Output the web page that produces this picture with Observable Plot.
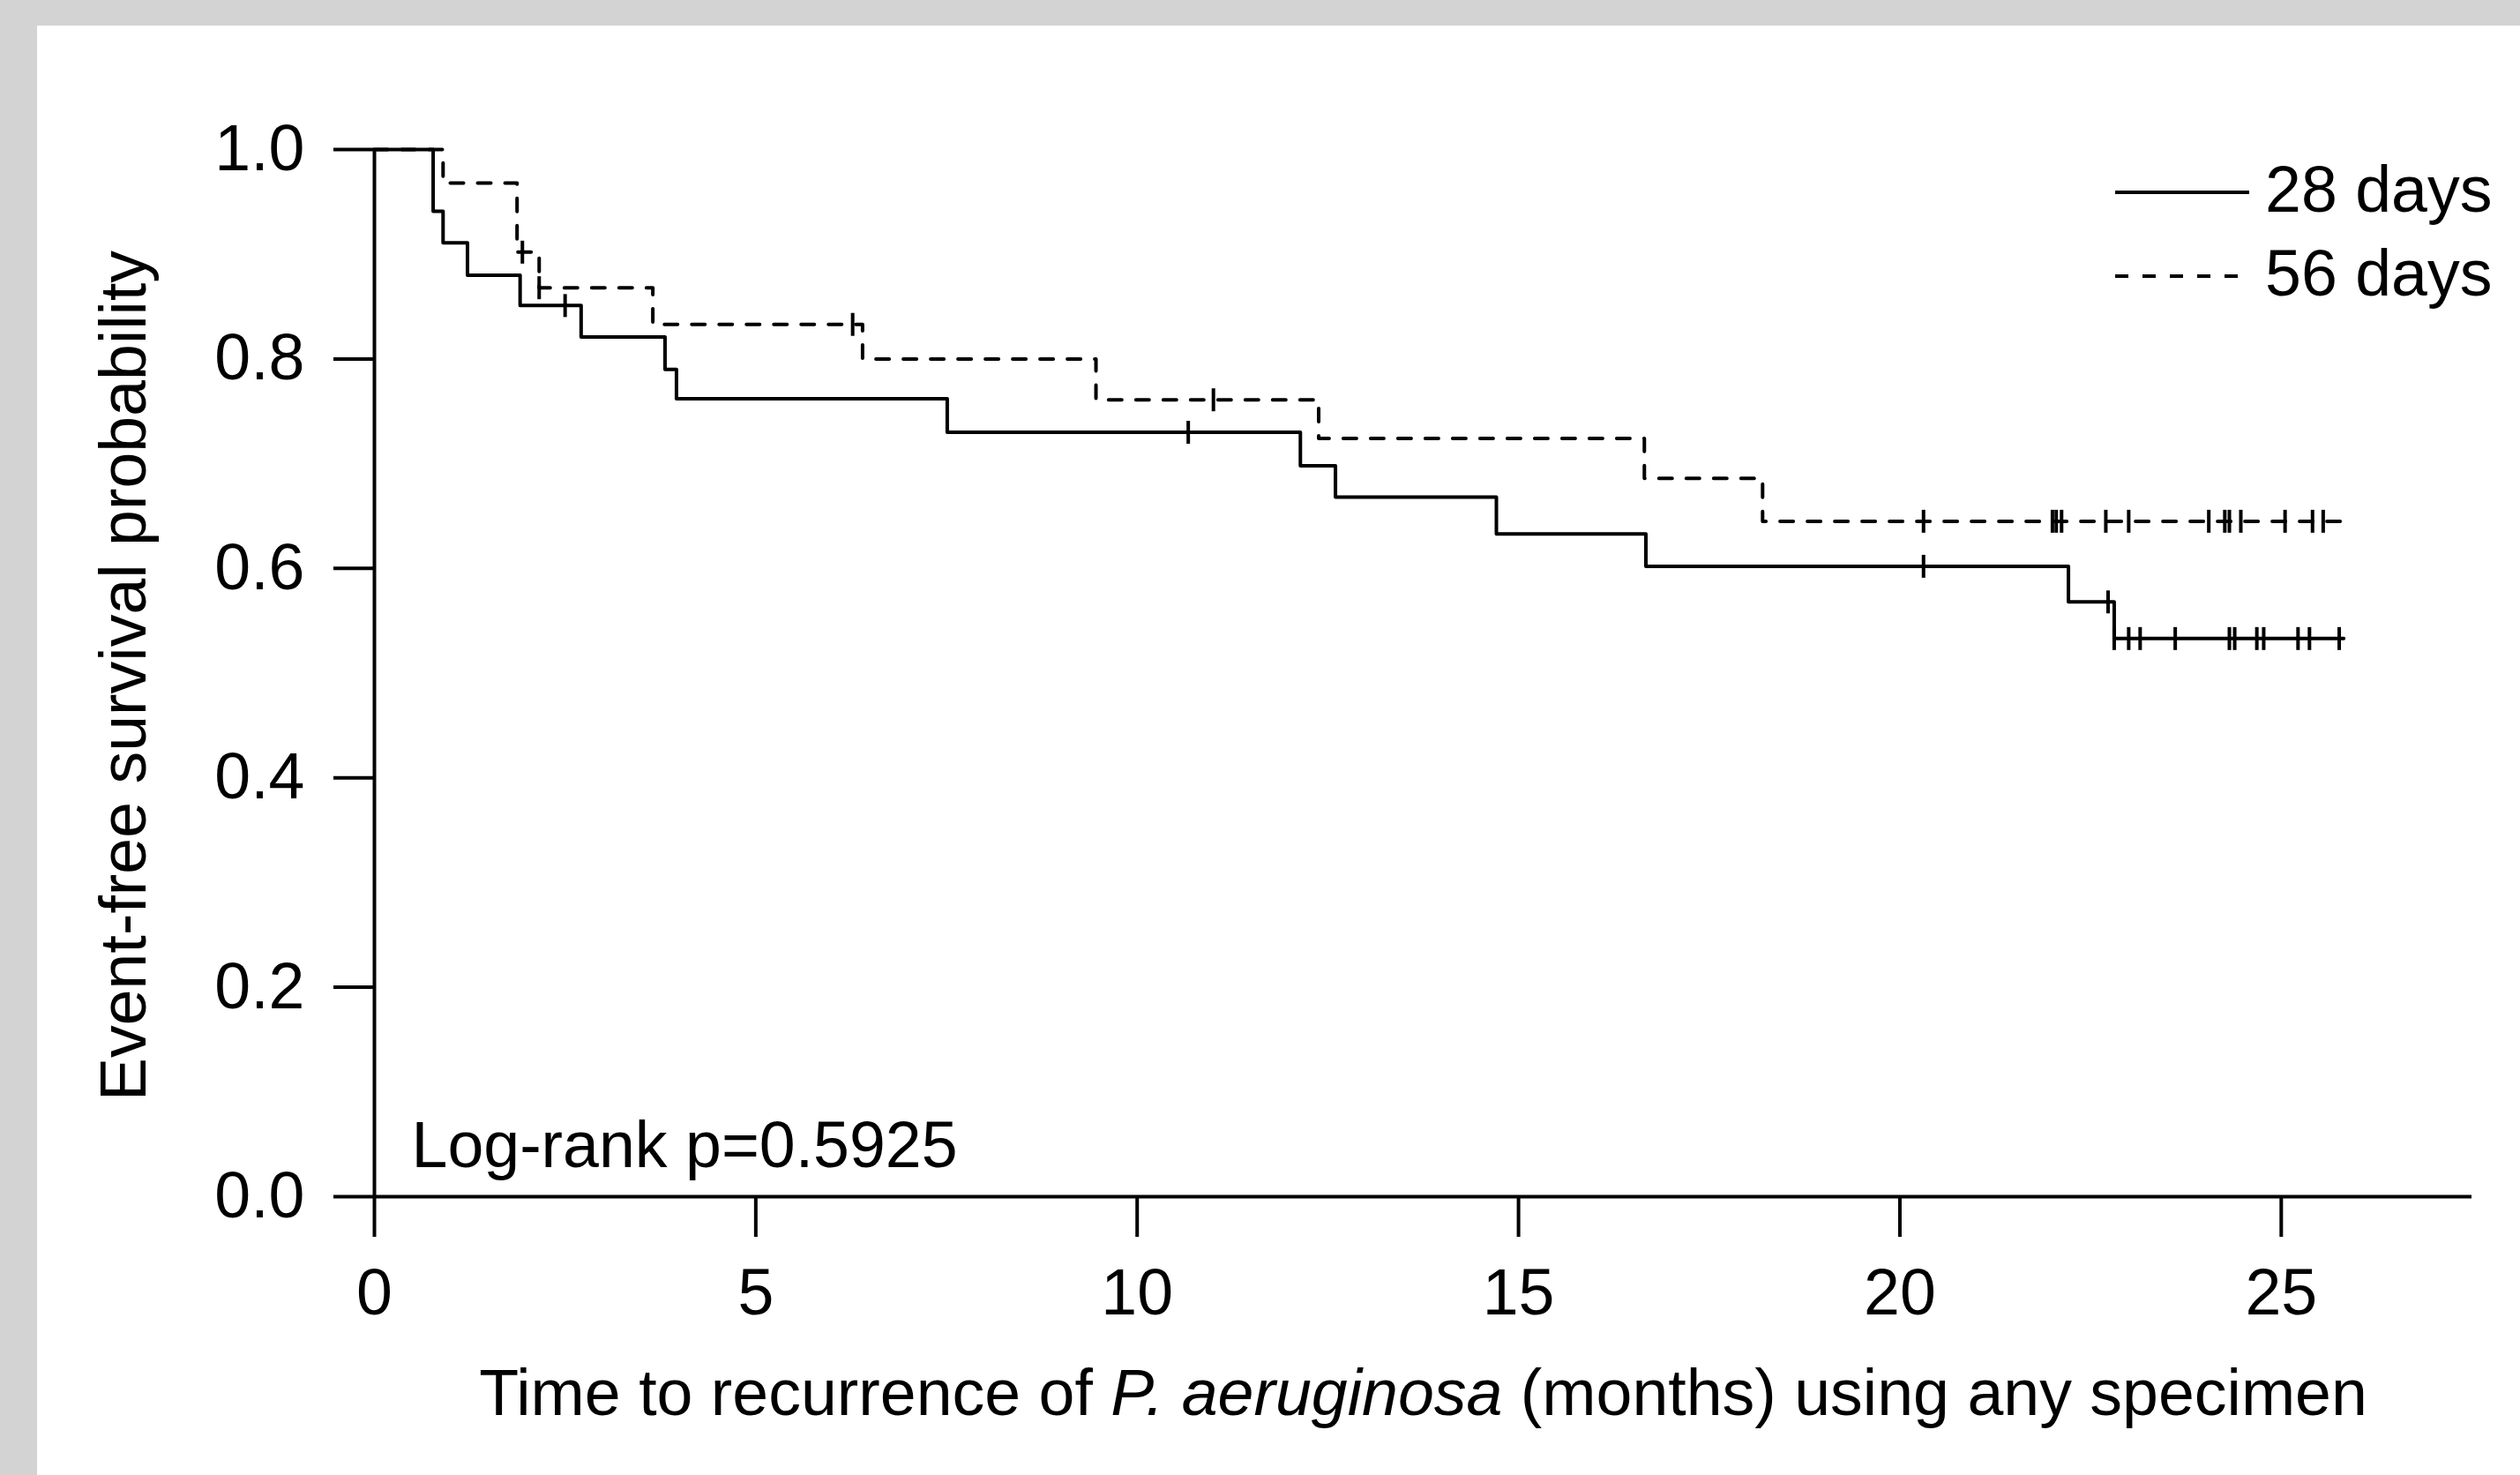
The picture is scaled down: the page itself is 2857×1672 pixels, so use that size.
<!DOCTYPE html>
<html><head><meta charset="utf-8">
<script src="https://cdn.jsdelivr.net/npm/d3@7"></script>
<script src="https://cdn.jsdelivr.net/npm/@observablehq/plot@0.6"></script>
<style>
html,body{margin:0;padding:0;background:#d3d3d3;width:2857px;height:1672px;overflow:hidden;}
#panel{position:absolute;left:42px;top:29px;width:2815px;height:1643px;background:#fff;}
</style></head><body><div id="panel"></div>
<script>
// ---- data ----
const groups = ["28 days", "56 days"];
const times28 = [0, 0.77, 0.90, 1.22, 1.91, 2.71, 3.81, 3.96, 7.51, 12.14, 12.60, 14.71, 16.67, 22.21, 22.81, 25.82];
const surv28  = [1, 0.941, 0.911, 0.880, 0.851, 0.821, 0.790, 0.762, 0.730, 0.698, 0.668, 0.633, 0.602, 0.568, 0.533, 0.533];
const censorTimes28 = [2.50, 10.67, 20.31, 22.73, 22.81, 23.00, 23.15, 23.61, 24.32, 24.39, 24.68, 24.77, 25.22, 25.37, 25.76];
const times56 = [0, 0.90, 1.87, 2.16, 3.65, 6.40, 9.46, 12.38, 16.65, 18.20, 25.82];
const surv56  = [1, 0.968, 0.902, 0.868, 0.833, 0.800, 0.761, 0.724, 0.686, 0.645, 0.645];
const censorTimes56 = [1.94, 2.16, 6.27, 11.00, 20.31, 22.00, 22.05, 22.12, 22.70, 23.00, 24.05, 24.26, 24.32, 24.47, 25.05, 25.41, 25.55];
const xTicks = [0, 5, 10, 15, 20, 25];
const yTicks = [0, 0.2, 0.4, 0.6, 0.8, 1.0];
const xDomain = [0, 27.5];
const yDomain = [0, 1];
const xLabelParts = [["Time to recurrence of ", false], ["P. aeruginosa", true], [" (months) using any specimen", false]];
const yLabel = "Event-free survival probability";
const pLabel = "Log-rank p=0.5925";

// ---- build tables ----
function stepAt(times, surv, t) { const i = d3.bisectRight(times, t) - 1; return surv[Math.max(0, i)]; }
const curve28 = times28.map((t, i) => ({time: t, surv: surv28[i], group: groups[0]}));
const curve56 = times56.map((t, i) => ({time: t, surv: surv56[i], group: groups[1]}));
const censor28 = censorTimes28.map(t => ({time: t, surv: stepAt(times28, surv28, t)}));
const censor56 = censorTimes56.map(t => ({time: t, surv: stepAt(times56, surv56, t)}));
const xLabelText = xLabelParts.map(d => d[0]).join("");

const tickSymbol = {draw(context, size) { const r = Math.sqrt(size / Math.PI); context.moveTo(0, -r); context.lineTo(0, r); }};
const LW = 4;
const FS = 73.5;
const DASH = "15,16";

const plot = Plot.plot({
  width: 2815, height: 1643,
  marginLeft: 382, marginRight: 55, marginTop: 140, marginBottom: 316,
  style: {fontFamily: "'Liberation Sans', Arial, sans-serif", fontSize: FS + "px", background: "transparent", color: "#000"},
  x: {domain: xDomain},
  y: {domain: yDomain},
  marks: [
    Plot.ruleY([0], {stroke: "#000", strokeWidth: LW}),
    Plot.ruleX([0], {stroke: "#000", strokeWidth: LW}),
    Plot.axisX({ticks: xTicks, tickSize: 46, tickPadding: 35, strokeWidth: LW, fontSize: FS, label: null, tickFormat: d => String(d)}),
    Plot.axisY({ticks: yTicks, tickSize: 46, tickPadding: 33, strokeWidth: LW, fontSize: FS, label: null, tickFormat: d => d.toFixed(1)}),
    Plot.line(curve28, {x: "time", y: "surv", curve: "step-after", stroke: "#000", strokeWidth: LW}),
    Plot.line(curve56, {x: "time", y: "surv", curve: "step-after", stroke: "#000", strokeWidth: LW, strokeDasharray: DASH}),
    Plot.dot(censor28, {x: "time", y: "surv", symbol: tickSymbol, r: 13, stroke: "#000", strokeWidth: LW, fill: "none"}),
    Plot.dot(censor56, {x: "time", y: "surv", symbol: tickSymbol, r: 13, stroke: "#000", strokeWidth: LW, fill: "none"}),
    Plot.text([yLabel], {frameAnchor: "left", textAnchor: "middle", rotate: -90, lineAnchor: "middle", dx: -283, dy: 3, fontSize: FS}),
    Plot.text([pLabel], {frameAnchor: "bottom-left", textAnchor: "start", lineAnchor: "middle", dx: 42, dy: -57, fontSize: FS}),
    Plot.text([xLabelText], {frameAnchor: "bottom", textAnchor: "middle", lineAnchor: "middle", dy: 224, fontSize: FS})
  ]
});

// italic species name in the x label
d3.select(plot).selectAll("text").filter(function() { return this.textContent === xLabelText; }).each(function() {
  const t = d3.select(this);
  t.text(null);
  xLabelParts.forEach(([s, it]) => t.append("tspan").attr("font-style", it ? "italic" : null).text(s));
});

// legend (top right, inside the panel)
const lg = d3.select(plot).append("g").attr("font-size", FS).attr("text-anchor", "start");
groups.forEach((g, i) => {
  const y = 189 + i * 95;
  lg.append("line").attr("x1", 2356).attr("x2", i === 0 ? 2508 : 2495).attr("y1", y).attr("y2", y)
    .attr("stroke", "#000").attr("stroke-width", LW).attr("stroke-dasharray", i === 0 ? null : DASH);
  lg.append("text").attr("x", 2526).attr("y", y + 22).attr("fill", "#000").attr("text-anchor", "start").text(g);
});

document.getElementById("panel").appendChild(plot);
</script>
</body></html>
